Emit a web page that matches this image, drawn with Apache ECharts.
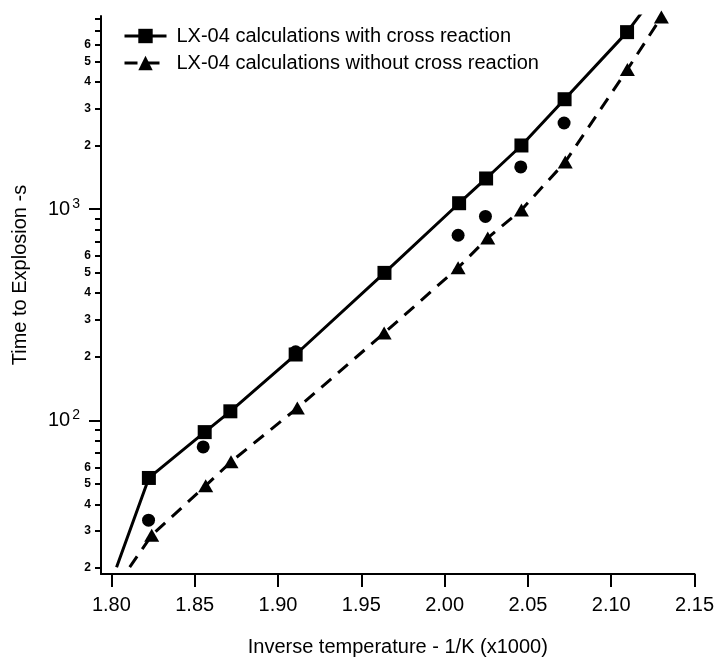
<!DOCTYPE html>
<html>
<head>
<meta charset="utf-8">
<script src="https://cdn.jsdelivr.net/npm/echarts@6/dist/echarts.min.js"></script>
<style>
html,body{margin:0;padding:0;background:#fff;}
#chart{width:717px;height:662px;}
</style>
</head>
<body>
<div id="chart"></div>
<script>
// ---- data ----
const withCrossName = 'LX-04 calculations with cross reaction';
const withoutCrossName = 'LX-04 calculations without cross reaction';

// first and last points are curve points drawn without a marker
const withCrossX = [1.8031, 1.8225, 1.8560, 1.8714, 1.9106, 1.9639, 2.0087, 2.0249, 2.0461, 2.0720, 2.1095, 2.1300];
const withCrossY = [20.2, 53.4, 88.0, 110.4, 205, 499, 1066, 1396, 2000, 3311, 6877, 11300];

// first point is a curve point drawn without a marker
const withoutCrossX = [1.8110, 1.8242, 1.8566, 1.8718, 1.9116, 1.9637, 2.0081, 2.0259, 2.0461, 2.0724, 2.1097, 2.1301];
const withoutCrossY = [20.2, 28.6, 49.1, 63.7, 114.4, 259, 528, 730, 991, 1672, 4578, 8110];

const measuredX = [1.8223, 1.8551, 1.9106, 2.0081, 2.0245, 2.0457, 2.0717];
const measuredY = [33.7, 74.9, 211, 752, 923, 1584, 2555];

const xTicks = [1.80, 1.85, 1.90, 1.95, 2.00, 2.05, 2.10, 2.15];
const yMajorTicks = [100, 1000];
const yMinorTicks = [20, 30, 40, 50, 60, 70, 80, 90, 200, 300, 400, 500, 600, 700, 800, 900, 2000, 3000, 4000, 5000, 6000, 7000, 8000];
const yMinorLabels = [20, 30, 40, 50, 60, 200, 300, 400, 500, 600, 2000, 3000, 4000, 5000, 6000];

const xMin = 1.79376, xMax = 2.15;
const yMin = 18.75, yMax = 8200;

// ---- build ----
const FONT = '"Liberation Sans", Arial, sans-serif';
function pts(xs, ys, bareIdx) {
  return xs.map((x, i) => {
    const item = { value: [x, ys[i]] };
    if (bareIdx.indexOf(i) >= 0) item.symbol = 'none';
    return item;
  });
}

const chart = echarts.init(document.getElementById('chart'), null, { renderer: 'canvas' });
const yBase = {
  type: 'log', logBase: 10, min: yMin, max: yMax, position: 'left',
  splitLine: { show: false }, minorTick: { show: false }, minorSplitLine: { show: false }
};
chart.setOption({
  animation: false,
  backgroundColor: '#fff',
  textStyle: { fontFamily: FONT, color: '#000' },
  grid: { left: 101, right: 16.5, top: 16, bottom: 83, containLabel: false },
  legend: {
    data: [withCrossName, withoutCrossName],
    orient: 'vertical', left: 118, top: 21,
    itemWidth: 42, itemHeight: 18, itemGap: 7,
    lineStyle: { width: 3 },
    textStyle: { fontFamily: FONT, fontSize: 20, color: '#000', padding: [0, 0, 0, 5] }
  },
  xAxis: {
    type: 'value', min: xMin, max: xMax,
    axisLine: { show: true, lineStyle: { color: '#000', width: 2 } },
    axisTick: { show: true, inside: false, length: 13, customValues: xTicks, lineStyle: { color: '#000', width: 2 } },
    axisLabel: { customValues: xTicks, margin: 21, fontFamily: FONT, fontSize: 20, color: '#000',
      formatter: v => Number(v).toFixed(2) },
    splitLine: { show: false },
    name: 'Inverse temperature - 1/K (x1000)', nameLocation: 'middle', nameGap: 63,
    nameTextStyle: { fontFamily: FONT, fontSize: 20, color: '#000' }
  },
  yAxis: [
    Object.assign({}, yBase, {
      axisLine: { show: true, lineStyle: { color: '#000', width: 2 } },
      axisTick: { show: true, inside: false, length: 12, customValues: yMajorTicks, lineStyle: { color: '#000', width: 2 } },
      axisLabel: { customValues: yMajorTicks, margin: 21, fontFamily: FONT, fontSize: 20, color: '#000',
        formatter: v => '10{sup|' + Math.round(Math.log10(v)) + '}',
        rich: { sup: { fontFamily: FONT, fontSize: 14, color: '#000', verticalAlign: 'top', padding: [0, 0, 10, 2] } } },
      name: 'Time to Explosion -s', nameLocation: 'middle', nameGap: 71,
      nameTextStyle: { fontFamily: FONT, fontSize: 20, color: '#000', padding: [0, 0, 0, 40] }
    }),
    Object.assign({}, yBase, {
      axisLine: { show: false },
      axisTick: { show: true, inside: false, length: 6, customValues: yMinorTicks, lineStyle: { color: '#000', width: 2 } },
      axisLabel: { customValues: yMinorLabels, margin: 10, fontFamily: FONT, fontSize: 12, fontWeight: 'bold', color: '#000',
        formatter: v => String(Math.round(v / Math.pow(10, Math.floor(Math.log10(v) + 1e-9)))) }
    })
  ],
  series: [
    {
      name: withCrossName, type: 'line', yAxisIndex: 0,
      data: pts(withCrossX, withCrossY, [0, withCrossX.length - 1]),
      symbol: 'rect', symbolSize: 14, showAllSymbol: true,
      lineStyle: { color: '#000', width: 3, type: 'solid' },
      itemStyle: { color: '#000', opacity: 1 }, clip: true, z: 3
    },
    {
      name: withoutCrossName, type: 'line', yAxisIndex: 0,
      data: pts(withoutCrossX, withoutCrossY, [0]),
      symbol: 'triangle', symbolSize: [15, 13], showAllSymbol: true,
      lineStyle: { color: '#000', width: 3, type: [13, 9] },
      itemStyle: { color: '#000', opacity: 1 }, clip: true, z: 3
    },
    {
      name: 'measured', type: 'scatter', yAxisIndex: 0,
      data: measuredX.map((x, i) => [x, measuredY[i]]),
      symbol: 'circle', symbolSize: 13,
      itemStyle: { color: '#000', opacity: 1 }, z: 2
    }
  ]
});
</script>
</body>
</html>
